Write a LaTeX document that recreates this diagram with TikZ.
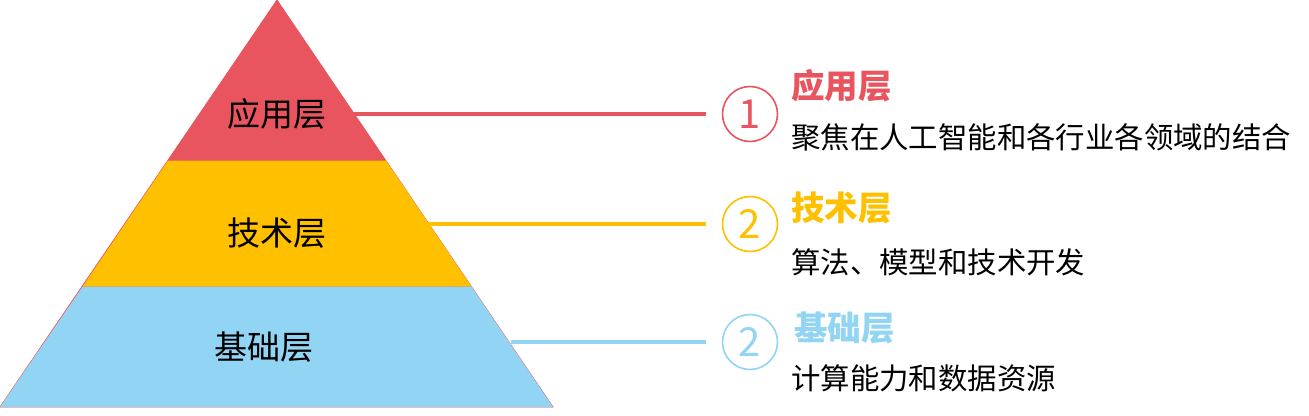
\documentclass[tikz,border=0pt]{standalone}
\usepackage{fontspec}
\newfontfamily\cjk{Noto Sans CJK SC}
\usetikzlibrary{positioning}
\definecolor{appred}{HTML}{E8555F}
\definecolor{techyellow}{HTML}{FFC000}
\definecolor{baseblue}{HTML}{92D4F3}

\begin{document}
\begin{tikzpicture}[x=1pt,y=-1pt,
    layer/.style={inner sep=0pt,font=\cjk\fontsize{33}{33}\selectfont},
    num/.style={circle,draw=#1,text=#1,line width=1.6pt,minimum size=55pt,inner sep=0pt,font=\cjk\fontsize{40}{40}\selectfont},
    title/.style={anchor=west,inner sep=0pt,text=#1,font=\cjk\bfseries\fontsize{33.5}{33.5}\selectfont},
    desc/.style={anchor=west,inner sep=0pt,font=\cjk\fontsize{29.4}{29.4}\selectfont},
    link/.style={draw=#1,line width=3.5pt,shorten >=16pt}]
\useasboundingbox (0,0) rectangle (1309,415);

% pyramid
\filldraw[appred,line width=0.8pt] (277,0) -- (553,407) -- (0,407) -- cycle;
\fill[techyellow] (386.1,160.7) -- (471.5,286.7) -- (82.5,286.7) -- (167.9,160.7) -- cycle;
\fill[baseblue] (471.5,286.7) -- (553,407) -- (0,407) -- (82.5,286.7) -- cycle;

\node[layer] (l1) at (277,114) {应用层};
\node[layer] (l2) at (277,233) {技术层};
\node[layer] (l3) at (264,347) {基础层};

% edge points
\coordinate (e1) at (354,114);
\coordinate (e2) at (428,224);
\coordinate (e3) at (511,342);

\node[num=appred]     (c1) at (750,114) {1};
\node[num=techyellow] (c2) at (750,224) {2};
\node[num=baseblue]   (c3) at (750,342) {2};

\draw[link=appred]     (e1) -- (c1);
\draw[link=techyellow] (e2) -- (c2);
\draw[link=baseblue]   (e3) -- (c3);

\node[title=appred]     (t1) at (791,86)  {应用层};
\node[title=techyellow] (t2) at (791,208) {技术层};
\node[title=baseblue]   (t3) at (794,328) {基础层};

\node[desc] (d1) at (791,137) {聚焦在人工智能和各行业各领域的结合};
\node[desc] (d2) at (791,262) {算法、模型和技术开发};
\node[desc] (d3) at (791,378) {计算能力和数据资源};
\end{tikzpicture}
\end{document}
